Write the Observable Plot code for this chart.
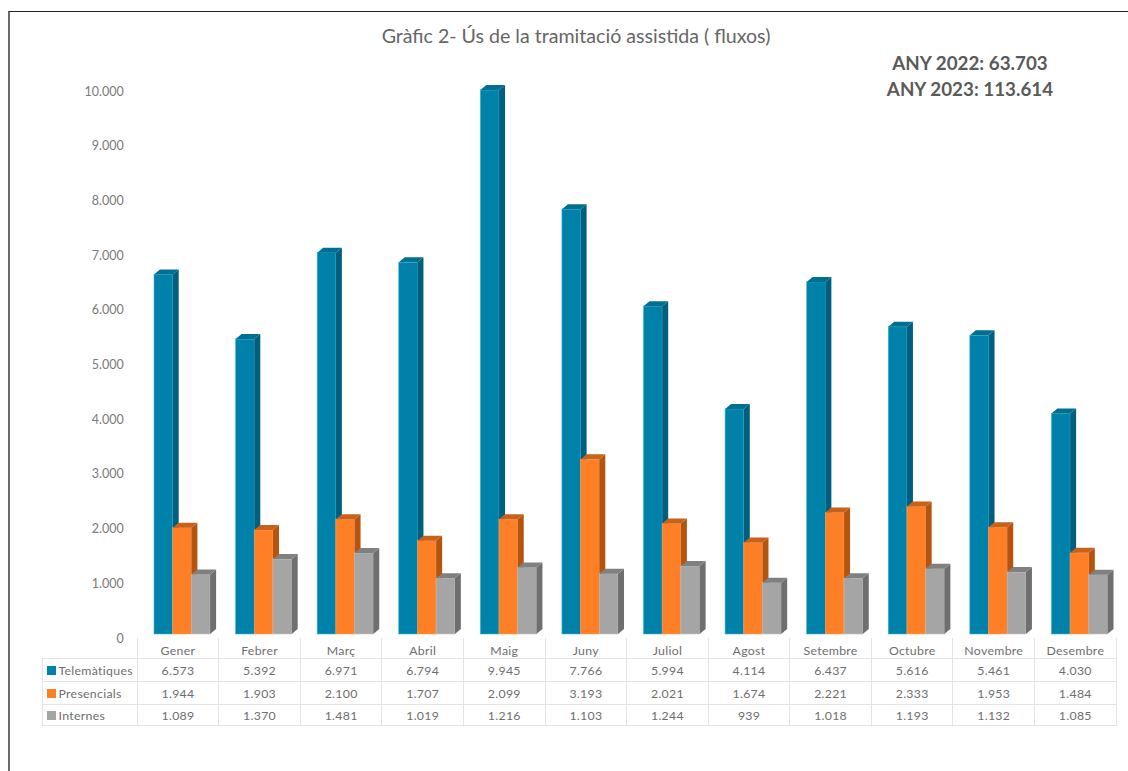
<!DOCTYPE html>
<html lang="ca">
<head>
<meta charset="utf-8">
<script src="https://cdn.jsdelivr.net/npm/d3@7"></script>
<script src="https://cdn.jsdelivr.net/npm/@observablehq/plot@0.6"></script>
<style>
  html, body { margin: 0; padding: 0; background: #fff; }
  body { width: 1128px; height: 771px; overflow: hidden; position: relative; font-family: Lato, "Open Sans", sans-serif; }
  #frame { position: absolute; left: 8px; top: 11px; right: -4px; bottom: -4px; border-top: 1.5px solid #222; border-left: 2px solid #6b6b6b; }
  #chart { position: absolute; left: 0; top: 0; }
  #title { position: absolute; left: 276px; width: 600px; top: 24px; text-align: center; font-size: 19.6px; line-height: 24px; color: #666; }
  #totals { position: absolute; left: 820px; width: 300px; top: 50px; text-align: center; font-size: 18.8px; line-height: 26px; font-weight: 700; color: #5a5a5a; }
  #table { position: absolute; left: 41.5px; top: 638px; border-collapse: collapse; table-layout: fixed; width: 1074.2px; font-size: 12.3px; color: #6e6e6e; }
  #table td { border: 1px solid #e4e4e4; text-align: center; padding: 0; letter-spacing: 0.3px; }
  #table tr:nth-of-type(1) td { height: 20px; border-top: none; vertical-align: bottom; padding-bottom: 0; line-height: 14px; }
  #table tr:nth-of-type(2) td { height: 22px; }
  #table tr:nth-of-type(3) td { height: 22px; }
  #table tr:nth-of-type(4) td { height: 20px; }
  #table td.corner { border: none; border-bottom: 1px solid #e4e4e4; }
  #table td.name { text-align: left; padding-left: 4px; white-space: nowrap; }
  .swatch { display: inline-block; width: 9px; height: 9px; margin-right: 3px; }
</style>
</head>
<body>
<div id="frame"></div>
<div id="chart"></div>
<div id="title">Gràfic 2- Ús de la tramitació assistida ( fluxos)</div>
<div id="totals">ANY 2022: 63.703<br>ANY 2023: 113.614</div>
<table id="table"></table>
<script>
const months = ["Gener","Febrer","Març","Abril","Maig","Juny","Juliol","Agost","Setembre","Octubre","Novembre","Desembre"];
const telematiques = [6573,5392,6971,6794,9945,7766,5994,4114,6437,5616,5461,4030];
const presencials = [1944,1903,2100,1707,2099,3193,2021,1674,2221,2333,1953,1484];
const internes = [1089,1370,1481,1019,1216,1103,1244,939,1018,1193,1132,1085];
const seriesNames = ["Telemàtiques","Presencials","Internes"];
const seriesValues = [telematiques, presencials, internes];
const fronts = ["#0081a9","#ff7f27","#a5a5a5"];
const edges = ["#35bcd8","#ffa35f","#c4c4c4"];
const sides = ["#005f7e","#b5540f","#6f6f6f"];
const tops = ["#016f92","#c8621a","#808080"];
const tickValues = d3.range(0, 10001, 1000);

const fmt = v => d3.format(",")(v).replace(/,/g, ".");
const depthX = 6, depthY = 5;

// Adds the side and top faces of a 3D column to each bar the library has drawn.
function extrude(side, top) {
  return (index, scales, values, dimensions, context, next) => {
    const g = next(index, scales, values, dimensions, context);
    const root = d3.select(g);
    root.selectAll("rect").each(function () {
      const r = d3.select(this);
      const x = +r.attr("x"), y = +r.attr("y"), w = +r.attr("width"), h = +r.attr("height");
      root.append("polygon").attr("fill", side).attr("stroke", "none")
        .attr("points", [[x+w,y],[x+w+depthX,y-depthY],[x+w+depthX,y+h-depthY],[x+w,y+h]].join(" "));
      root.append("polygon").attr("fill", top).attr("stroke", "none")
        .attr("points", [[x,y],[x+depthX,y-depthY],[x+w+depthX,y-depthY],[x+w,y]].join(" "));
    });
    return g;
  };
}

const band = (1115.7 - 136.7) / 12, barW = 18.7, lead = 17.3;
const bars = seriesValues.map((vals, i) => Plot.barY(months, {
  x: months,
  y: vals,
  fill: fronts[i],
  stroke: edges[i],
  strokeWidth: 0.6,
  insetLeft: lead + i * barW,
  insetRight: band - lead - (i + 1) * barW,
  render: extrude(sides[i], tops[i])
}));

const plot = Plot.plot({
  width: 1128,
  height: 650,
  marginTop: 87,
  marginBottom: 16,
  marginLeft: 136.7,
  marginRight: 12.3,
  style: { background: "transparent", overflow: "visible" },
  x: { domain: months, padding: 0, round: false, axis: null },
  y: { domain: [0, 10000], axis: null },
  marks: [
    Plot.axisY(tickValues, {
      tickSize: 0, tickPadding: 13.5, tickFormat: fmt, label: null, dy: 4,
      fontSize: 12.5, fill: "#7a7a7a", fontFamily: "Lato, sans-serif"
    }),
    ...bars
  ]
});
document.getElementById("chart").append(plot);

const table = d3.select("#table");
const cols = table.append("colgroup");
cols.append("col").style("width", "95.2px");
months.forEach(() => cols.append("col").style("width", band + "px"));
const head = table.append("tr");
head.append("td").attr("class", "corner");
months.forEach(m => head.append("td").text(m));
seriesNames.forEach((name, i) => {
  const tr = table.append("tr");
  const c = tr.append("td").attr("class", "name");
  c.append("span").attr("class", "swatch").style("background", fronts[i]);
  c.append("span").text(name);
  seriesValues[i].forEach(v => tr.append("td").text(fmt(v)));
});
</script>
</body>
</html>
